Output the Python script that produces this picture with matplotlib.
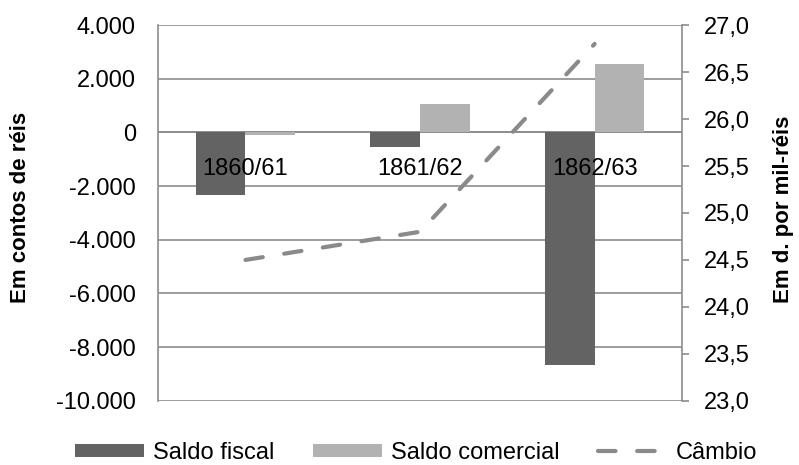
import matplotlib
matplotlib.use("Agg")
import matplotlib.pyplot as plt
import numpy as np
from matplotlib.ticker import FuncFormatter, MultipleLocator
from matplotlib.patches import Patch
from matplotlib.lines import Line2D
import matplotlib.transforms as mtransforms

plt.rcParams['font.family'] = ['Liberation Sans', 'DejaVu Sans']

categories = ["1860/61", "1861/62", "1862/63"]
saldo_fiscal = [-2340, -550, -8650]
saldo_comercial = [-90, 1070, 2560]
cambio = [24.5, 24.8, 26.8]

c_fiscal = "#636363"
c_comercial = "#B2B2B2"
c_cambio = "#8A8A8A"
c_grid = "#8C8C8C"

fig = plt.figure(figsize=(7.99, 4.65), dpi=100)
ax = fig.add_axes([0.198, 0.138, 0.6555, 0.808])
ax2 = ax.twinx()

x = np.arange(len(categories)) + 0.5
bw = 0.284
ax.bar(x - bw / 2, saldo_fiscal, width=bw, color=c_fiscal, zorder=3)
ax.bar(x + bw / 2, saldo_comercial, width=bw, color=c_comercial, zorder=3)

ax.set_xlim(0, len(categories))
ax.set_ylim(-10000, 4000)
ax.yaxis.set_major_locator(MultipleLocator(2000))
ax.yaxis.set_major_formatter(FuncFormatter(lambda v, p: f"{int(v):,}".replace(",", ".")))
ax.grid(axis='y', color=c_grid, linewidth=1.2, zorder=0)
ax.set_axisbelow(True)
ax.tick_params(axis='y', length=0, pad=16, labelsize=17)
ax.set_xticks([])
for s in ['top', 'bottom', 'right']:
    ax.spines[s].set_visible(False)
ax.spines['left'].set_color(c_grid)
ax.spines['left'].set_linewidth(1.2)
ax.axhline(0, color=c_grid, linewidth=1.2, zorder=2)

# category labels just below the zero line
offset = mtransforms.offset_copy(ax.transData, fig=fig, x=0, y=-37, units='dots')
for xi, lab in zip(x, categories):
    ax.text(xi, 0, lab, transform=offset, ha='center', va='center', fontsize=17, zorder=5)

ax2.plot(x, cambio, color=c_cambio, linewidth=3, dashes=(4.2, 5.2),
         dash_capstyle='round', zorder=4)
ax2.set_ylim(23.0, 27.0)
ax2.yaxis.set_major_locator(MultipleLocator(0.5))
ax2.yaxis.set_major_formatter(FuncFormatter(lambda v, p: f"{v:.1f}".replace(".", ",")))
ax2.tick_params(axis='y', length=5, width=1.2, color=c_grid, pad=11, labelsize=17)
for s in ['top', 'bottom', 'left']:
    ax2.spines[s].set_visible(False)
ax2.spines['right'].set_color(c_grid)
ax2.spines['right'].set_linewidth(1.2)

fig.text(21 / 799, 1 - 207.5 / 465, "Em contos de réis", rotation=90, ha='center',
         va='center', fontsize=16, fontweight='bold')
fig.text(783 / 799, 1 - 209 / 465, "Em d. por mil-réis", rotation=90, ha='center',
         va='center', fontsize=16, fontweight='bold')

handles = [
    Patch(facecolor=c_fiscal, label="Saldo fiscal"),
    Patch(facecolor=c_comercial, label="Saldo comercial"),
    Line2D([0], [0], color=c_cambio, linewidth=3, dashes=(4.2, 5.2),
           dash_capstyle='round', label="Câmbio"),
]
fig.legend(handles=handles, loc='center', bbox_to_anchor=(0.521, 0.026), ncol=3,
           frameon=False, fontsize=17, handlelength=2.9, handleheight=0.47,
           handletextpad=0.38, columnspacing=1.65, borderpad=0, borderaxespad=0)

fig.savefig("out.png", dpi=100)
